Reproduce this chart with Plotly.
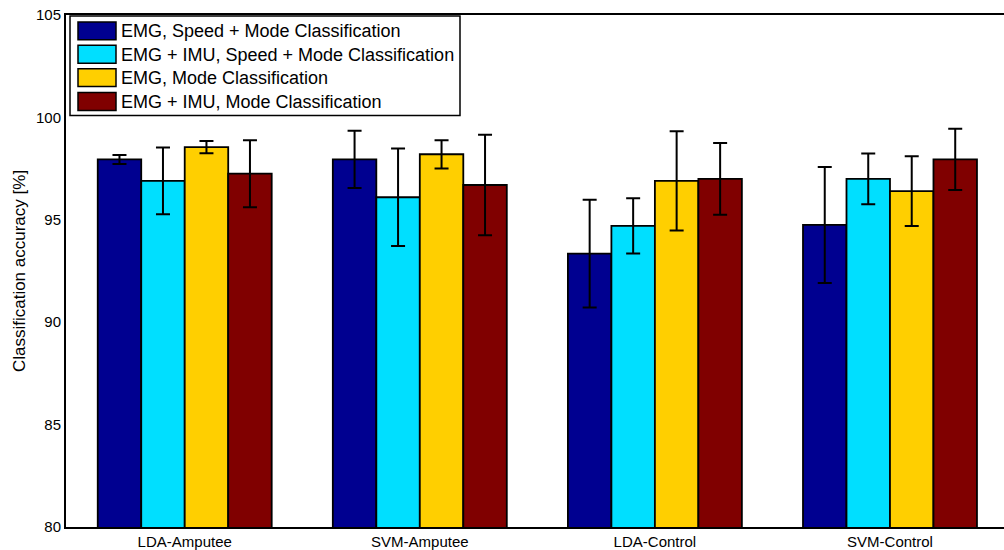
import plotly.graph_objects as go

# Classifier / subject-group categories
categories = ["LDA-Amputee", "SVM-Amputee", "LDA-Control", "SVM-Control"]

# Feature-set / classification-task series
series_names = [
    "EMG, Speed + Mode Classification",
    "EMG + IMU, Speed + Mode Classification",
    "EMG, Mode Classification",
    "EMG + IMU, Mode Classification",
]

# Mean classification accuracy [%]
emg_speed_mode = [97.95, 97.95, 93.35, 94.75]
emg_imu_speed_mode = [96.9, 96.1, 94.7, 97.0]
emg_mode = [98.55, 98.2, 96.9, 96.4]
emg_imu_mode = [97.25, 96.7, 97.0, 97.95]

# Standard deviations [%]
emg_speed_mode_sd = [0.22, 1.4, 2.63, 2.83]
emg_imu_speed_mode_sd = [1.63, 2.38, 1.35, 1.24]
emg_mode_sd = [0.3, 0.69, 2.42, 1.7]
emg_imu_mode_sd = [1.64, 2.45, 1.75, 1.5]

y_ticks = [80, 85, 90, 95, 100, 105]

means = [emg_speed_mode, emg_imu_speed_mode, emg_mode, emg_imu_mode]
sds = [emg_speed_mode_sd, emg_imu_speed_mode_sd, emg_mode_sd, emg_imu_mode_sd]
colors = ["#000090", "#00DFFF", "#FFCF00", "#800000"]

FONT = "Liberation Sans, Arial, sans-serif"
W, H = 1004, 550
ML, MR, MT, MB = 66, 0, 15, 20
PW, PH = W - ML - MR, H - MT - MB

fig = go.Figure()
for name, m, s, c in zip(series_names, means, sds, colors):
    fig.add_trace(go.Bar(
        x=categories, y=m, name=name,
        marker=dict(color=c, line=dict(color="black", width=1.8)),
        error_y=dict(type="data", array=s, visible=True,
                     color="black", thickness=2, width=7),
        showlegend=False,
    ))


def px_x(px):
    return (px - ML) / PW


def px_y(py):
    return (H - MB - py) / PH


# Hand-built legend box with large swatches
shapes = [dict(type="rect", xref="paper", yref="paper",
               x0=px_x(70), x1=px_x(460), y0=px_y(116), y1=px_y(16),
               line=dict(color="black", width=1.5), fillcolor="white", layer="above")]
annotations = []
row_top = [22, 45.5, 69, 93]
for top, name, c in zip(row_top, series_names, colors):
    shapes.append(dict(type="rect", xref="paper", yref="paper",
                       x0=px_x(78), x1=px_x(116), y0=px_y(top + 18), y1=px_y(top),
                       line=dict(color="black", width=1.5), fillcolor=c, layer="above"))
    annotations.append(dict(xref="paper", yref="paper", x=px_x(119), y=px_y(top + 9.5),
                            text=name, showarrow=False, xanchor="left", yanchor="middle",
                            font=dict(family=FONT, size=18, color="black")))

fig.update_layout(
    width=W, height=H,
    margin=dict(l=ML, r=MR, t=MT, b=MB, pad=0),
    paper_bgcolor="white", plot_bgcolor="white",
    barmode="group", bargap=0.26, bargroupgap=0,
    font=dict(family=FONT, color="black"),
    shapes=shapes, annotations=annotations,
    xaxis=dict(range=[-0.505, 3.485], showgrid=False, zeroline=False,
               showline=True, linecolor="black", linewidth=2, mirror=True,
               ticks="", tickfont=dict(size=15, family=FONT, color="black")),
    yaxis=dict(range=[80, 105], tickvals=y_ticks, showgrid=False, zeroline=False,
               showline=True, linecolor="black", linewidth=2,
               ticks="", tickfont=dict(size=15, family=FONT, color="black"),
               title=dict(text="Classification accuracy [%]", standoff=6,
                          font=dict(size=17, family=FONT, color="black"))),
)

fig.write_html("out.html")
